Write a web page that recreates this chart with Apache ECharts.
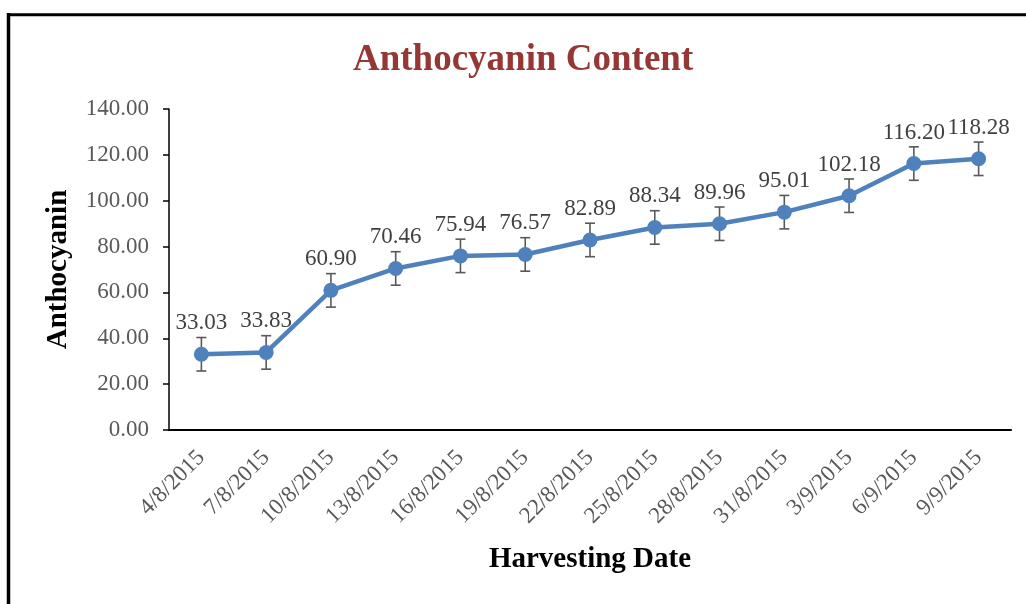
<!DOCTYPE html>
<html>
<head>
<meta charset="utf-8">
<script src="https://cdn.jsdelivr.net/npm/echarts@6/dist/echarts.min.js"></script>
<style>
  html, body { margin: 0; padding: 0; background: #fff; }
  #chart { width: 1026px; height: 604px; }
</style>
</head>
<body>
<div id="chart"></div>
<script>
// Harvest dates (category axis)
const dates = ['4/8/2015', '7/8/2015', '10/8/2015', '13/8/2015', '16/8/2015', '19/8/2015',
  '22/8/2015', '25/8/2015', '28/8/2015', '31/8/2015', '3/9/2015', '6/9/2015', '9/9/2015'];
// Mean anthocyanin content per harvest
const anthocyanin = [33.03, 33.83, 60.90, 70.46, 75.94, 76.57, 82.89, 88.34, 89.96, 95.01, 102.18, 116.20, 118.28];
// Error bar half-widths (± value)
const errors = [7.3, 7.3, 7.3, 7.3, 7.3, 7.3, 7.3, 7.3, 7.3, 7.3, 7.3, 7.3, 7.3];

const serif = '"Liberation Serif", "Times New Roman", serif';
const chart = echarts.init(document.getElementById('chart'), null, { renderer: 'canvas' });

const errData = anthocyanin.map((v, i) => [i, v - errors[i], v + errors[i]]);

chart.setOption({
  backgroundColor: '#ffffff',
  animation: false,
  title: {
    text: 'Anthocyanin Content',
    left: 348,
    top: 37,
    textStyle: { fontFamily: serif, fontSize: 37, fontWeight: 'bold', color: '#953735' }
  },
  grid: { left: 169, right: 15, top: 109, bottom: 174, containLabel: false },
  xAxis: {
    type: 'category',
    data: dates,
    boundaryGap: true,
    name: 'Harvesting Date',
    nameLocation: 'middle',
    nameGap: 115,
    nameTextStyle: { fontFamily: serif, fontSize: 29, fontWeight: 'bold', color: '#000' },
    axisLine: { lineStyle: { color: '#000', width: 2 } },
    axisTick: { alignWithLabel: true, length: 6, lineStyle: { color: '#000', width: 2 } },
    axisLabel: { rotate: 45, margin: 24, fontFamily: serif, fontSize: 23, color: '#595959' },
    splitLine: { show: false }
  },
  yAxis: {
    type: 'value',
    min: 0,
    max: 140,
    interval: 20,
    name: 'Anthocyanin',
    nameLocation: 'middle',
    nameRotate: 90,
    nameGap: 96,
    nameTextStyle: { fontFamily: serif, fontSize: 29, fontWeight: 'bold', color: '#000' },
    axisLine: { show: true, lineStyle: { color: '#000', width: 1.5 } },
    axisTick: { show: true, length: 6, lineStyle: { color: '#000', width: 1.5 } },
    axisLabel: {
      margin: 20,
      fontFamily: serif,
      fontSize: 23,
      color: '#595959',
      formatter: v => v.toFixed(2)
    },
    splitLine: { show: false }
  },
  series: [
    {
      type: 'custom',
      name: 'error',
      z: 1,
      renderItem: (params, api) => {
        const x = api.value(0);
        const lo = api.coord([x, api.value(1)]);
        const hi = api.coord([x, api.value(2)]);
        const cap = 5;
        const style = { stroke: '#595959', lineWidth: 1.6 };
        return {
          type: 'group',
          children: [
            { type: 'line', shape: { x1: lo[0], y1: lo[1], x2: hi[0], y2: hi[1] }, style },
            { type: 'line', shape: { x1: lo[0] - cap, y1: lo[1], x2: lo[0] + cap, y2: lo[1] }, style },
            { type: 'line', shape: { x1: hi[0] - cap, y1: hi[1], x2: hi[0] + cap, y2: hi[1] }, style }
          ]
        };
      },
      encode: { x: 0, y: [1, 2] },
      data: errData
    },
    {
      type: 'line',
      name: 'Anthocyanin',
      z: 3,
      data: anthocyanin,
      symbol: 'circle',
      symbolSize: 15,
      lineStyle: { color: '#4F81BD', width: 4.5 },
      itemStyle: { color: '#4F81BD' },
      label: {
        show: true,
        position: 'top',
        distance: 12,
        fontFamily: serif,
        fontSize: 23,
        color: '#404040',
        formatter: p => p.value.toFixed(2)
      }
    }
  ],
  graphic: [
    { type: 'line', shape: { x1: 8.5, y1: 13, x2: 8.5, y2: 604 }, style: { stroke: '#000', lineWidth: 3.5 } },
    { type: 'line', shape: { x1: 7, y1: 14.7, x2: 1026, y2: 14.7 }, style: { stroke: '#000', lineWidth: 3 } }
  ]
});
</script>
</body>
</html>
